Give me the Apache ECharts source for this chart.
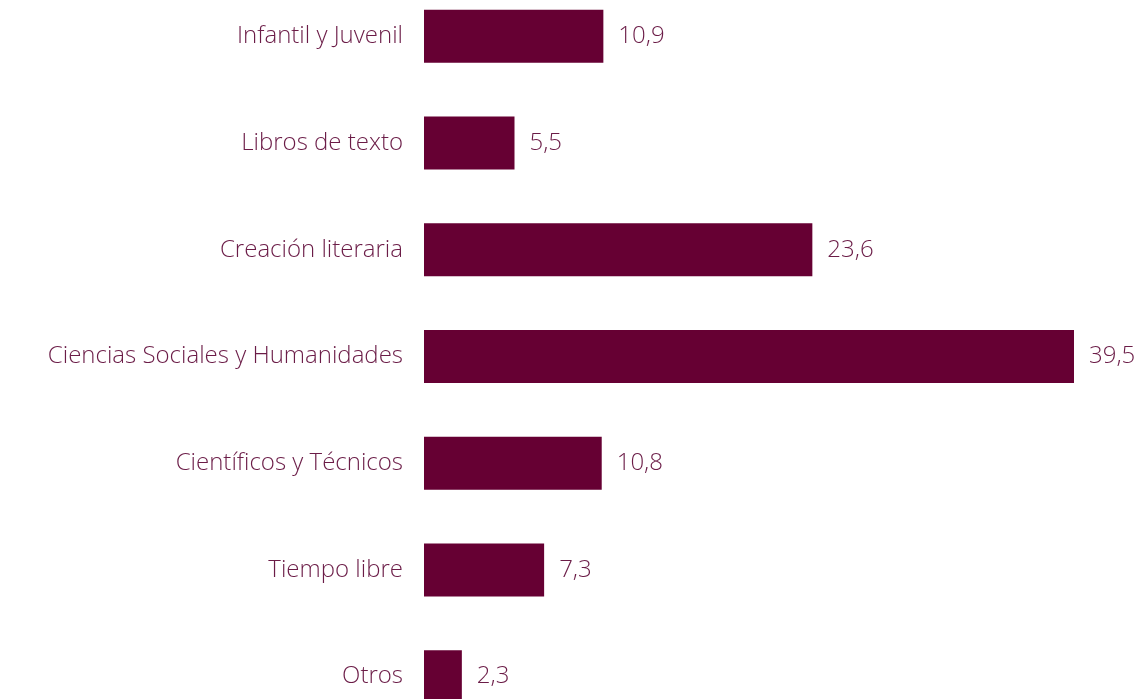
<!DOCTYPE html>
<html><head><meta charset="utf-8">
<script src="https://cdn.jsdelivr.net/npm/echarts@6/dist/echarts.min.js"></script>
<style>html,body{margin:0;padding:0;background:#fff;overflow:hidden;width:1144px;height:699px;position:relative}#c{position:absolute;left:0;top:-17px;width:1144px;height:747px}</style>
</head><body><div id="c"></div>
<script>
const categories = ["Infantil y Juvenil","Libros de texto","Creación literaria","Ciencias Sociales y Humanidades","Científicos y Técnicos","Tiempo libre","Otros"];
const values = [10.9, 5.5, 23.6, 39.5, 10.8, 7.3, 2.3];
const chart = echarts.init(document.getElementById('c'), null, {renderer:'canvas'});
const txt = '#6b1c47';
chart.setOption({
  animation:false,
  grid:{left:424, right:70, top:0, bottom:0, containLabel:false},
  xAxis:{type:'value', min:0, max:39.5, show:false},
  yAxis:{type:'category', data:categories, inverse:true,
    axisLine:{show:false}, axisTick:{show:false}, splitLine:{show:false},
    axisLabel:{margin:21, color:txt, fontFamily:'Open Sans', fontWeight:300, fontSize:24}},
  series:[{type:'bar', data:values, barWidth:53, itemStyle:{color:'#660033'},
    label:{show:true, position:'right', distance:15, color:txt, fontFamily:'Open Sans', fontWeight:300, fontSize:24,
      formatter:p=>String(p.value).replace('.',',')}}]
});
</script></body></html>
